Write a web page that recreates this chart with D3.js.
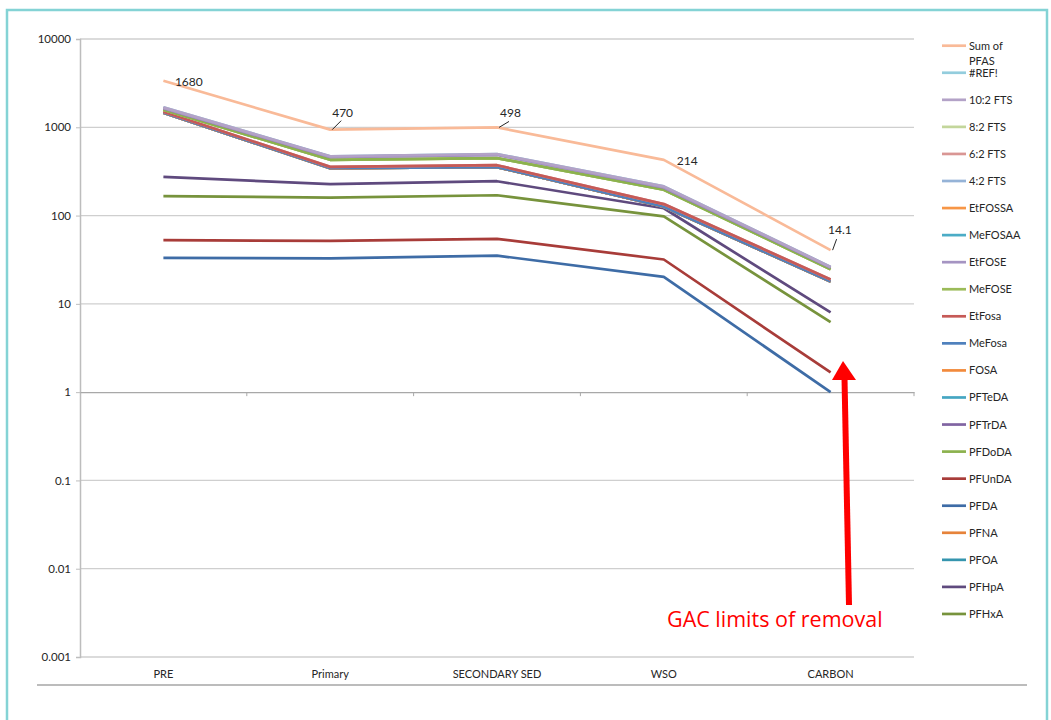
<!DOCTYPE html>
<html>
<head>
<meta charset="utf-8">
<script src="https://cdn.jsdelivr.net/npm/d3@7"></script>
<style>
  html, body { margin: 0; padding: 0; background: #fff; }
  svg { display: block; }
  text { font-family: Lato, "Open Sans", "Liberation Sans", sans-serif; }
</style>
</head>
<body>
<svg id="chart" width="1051" height="720"></svg>
<script>
// Treatment stages along the process train
const categories = ["PRE", "Primary", "SECONDARY SED", "WSO", "CARBON"];

// Log-axis tick values
const yTicks = [0.001, 0.01, 0.1, 1, 10, 100, 1000, 10000];
const yTickLabels = ["0.001", "0.01", "0.1", "1", "10", "100", "1000", "10000"];

// Concentrations per stage (one array per compound)
const sumPFAS  = [3360, 940, 996, 428, 40.6];
const refErr   = [1680, 470, 498, 214, 26.2];
const fts102   = [1680, 470, 498, 214, 26.2];
const fts82    = [1580, 428, 448, 196, 24.6];
const fts62    = [1500, 356, 372, 135, 18.9];
const fts42    = [1465, 344, 354, 126, 17.9];
const etFOSSA  = [1465, 344, 354, 126, 17.9];
const meFOSAA  = [1465, 344, 354, 126, 17.9];
const etFOSE   = [1640, 462, 488, 208, 25.8];
const meFOSE   = [1580, 428, 448, 196, 24.6];
const etFosa   = [1500, 356, 372, 135, 18.9];
const meFosa   = [1465, 344, 354, 126, 17.9];
const fosa     = [1465, 344, 354, 126, 17.9];
const pfTeDA   = [1465, 344, 354, 126, 17.9];
const pfTrDA   = [1640, 462, 488, 208, 25.8];
const pfDoDA   = [1580, 428, 448, 196, 24.6];
const pfUnDA   = [52.6, 51.7, 54.5, 31.8, 1.67];
const pfDA     = [33.2, 32.7, 35.2, 20.2, 1.0];
const pfNA     = [1465, 344, 354, 126, 17.9];
const pfOA     = [1465, 344, 354, 126, 17.9];
const pfHpA    = [274, 227, 245, 121, 8.0];
const pfHxA    = [166, 160, 170, 98, 6.2];

// Legend order, top to bottom
const seriesNames = ["Sum of PFAS", "#REF!", "10:2 FTS", "8:2 FTS", "6:2 FTS", "4:2 FTS",
  "EtFOSSA", "MeFOSAA", "EtFOSE", "MeFOSE", "EtFosa", "MeFosa", "FOSA", "PFTeDA",
  "PFTrDA", "PFDoDA", "PFUnDA", "PFDA", "PFNA", "PFOA", "PFHpA", "PFHxA"];
const seriesValues = [sumPFAS, refErr, fts102, fts82, fts62, fts42, etFOSSA, meFOSAA,
  etFOSE, meFOSE, etFosa, meFosa, fosa, pfTeDA, pfTrDA, pfDoDA, pfUnDA, pfDA, pfNA,
  pfOA, pfHpA, pfHxA];

// Line colours, same order as the legend
const seriesColors = ["#F9BA98", "#93CDDD", "#B3A2C7", "#C3D69B", "#D99694", "#95B3D7",
  "#F79646", "#4BACC6", "#A594C2", "#9BBB59", "#C65A57", "#4F81BD", "#F28A3C", "#45A6C2",
  "#8064A2", "#8CB24E", "#A83C39", "#3E6CA6", "#E6833A", "#3595AE", "#5F4A7E", "#77933C"];

// Stacking order of the lines (indices into the legend), first drawn at the back
const drawOrder = [0, 16, 17, 20, 21, 1, 13, 19, 7, 5, 6, 12, 18, 11, 4, 10, 3, 9, 15, 14, 8, 2];

// Data labels for the stage totals
const totalLabels = ["1680", "470", "498", "214", "14.1"];

const svg = d3.select("#chart");

// Outer frame
svg.append("rect")
  .attr("x", 7).attr("y", 10).attr("width", 1040).attr("height", 740)
  .attr("fill", "none").attr("stroke", "#84D3D5").attr("stroke-width", 2.5);

const plot = { left: 80, right: 914, top: 39, bottom: 657 };

const x = d3.scaleBand().domain(categories).range([plot.left, plot.right]).padding(0);
const cx = c => x(c) + x.bandwidth() / 2;
const y = d3.scaleLog().domain([0.001, 10000]).range([plot.bottom, plot.top]);

// Horizontal gridlines
svg.append("g").selectAll("line").data(yTicks.filter(v => v !== 1)).join("line")
  .attr("x1", plot.left).attr("x2", plot.right)
  .attr("y1", d => y(d)).attr("y2", d => y(d))
  .attr("stroke", "#CFCFCF").attr("stroke-width", 1.3);

// Value axis
const yAxis = d3.axisLeft(y).tickValues(yTicks)
  .tickFormat((d, i) => yTickLabels[i]).tickSize(4).tickPadding(5);
const gy = svg.append("g").attr("transform", `translate(${plot.left},0)`).call(yAxis);
gy.select(".domain").attr("stroke", "#BDBDBD").attr("stroke-width", 1.5);
gy.selectAll(".tick line").attr("stroke", "#BDBDBD");
gy.selectAll(".tick text").attr("fill", "#262626").style("font-size", "11.5px")
  .style("font-family", "Lato, sans-serif");

// Category axis crossing at 1, labels placed low
const xAxis = d3.axisBottom(x).tickSize(0).tickFormat("");
const gx = svg.append("g").attr("transform", `translate(0,${y(1)})`).call(xAxis);
gx.select(".domain").attr("stroke", "#A8A8A8").attr("stroke-width", 1.3);
gx.append("g").selectAll("line").data(categories).join("line")
  .attr("x1", (d, i) => plot.left + x.bandwidth() * (i + 1))
  .attr("x2", (d, i) => plot.left + x.bandwidth() * (i + 1))
  .attr("y1", 0).attr("y2", 4).attr("stroke", "#A8A8A8");

svg.append("g").selectAll("text").data(categories).join("text")
  .attr("x", d => cx(d)).attr("y", 678)
  .attr("text-anchor", "middle").attr("fill", "#262626")
  .style("font-size", "11px").text(d => d);

// Separator line under the chart
svg.append("line").attr("x1", 37).attr("x2", 1027).attr("y1", 685).attr("y2", 685)
  .attr("stroke", "#A6A6A6").attr("stroke-width", 1.3);

// Series lines
const line = d3.line().x((d, i) => cx(categories[i])).y(d => y(d));
svg.append("g").selectAll("path").data(drawOrder).join("path")
  .attr("d", i => line(seriesValues[i]))
  .attr("fill", "none")
  .attr("stroke", i => seriesColors[i])
  .attr("stroke-width", 2.7)
  .attr("stroke-linejoin", "round");

// Data labels: text offset [dx, baseline dy] and optional leader end [dx, dy]
const labelLayout = [
  { t: [11.5, 5.6], lead: null },
  { t: [2, -13], lead: [11, -9] },
  { t: [3, -10], lead: [12, -6] },
  { t: [13, 5.6], lead: null },
  { t: [-2.5, -16], lead: [6, -11] }
];
const lbl = svg.append("g");
totalLabels.forEach((t, i) => {
  const px = cx(categories[i]), py = y(sumPFAS[i]);
  const L = labelLayout[i];
  if (L.lead) {
    lbl.append("line")
      .attr("x1", px + 2).attr("y1", py)
      .attr("x2", px + L.lead[0]).attr("y2", py + L.lead[1])
      .attr("stroke", "#262626").attr("stroke-width", 1);
  }
  lbl.append("text").attr("x", px + L.t[0]).attr("y", py + L.t[1])
    .attr("fill", "#262626").style("font-size", "12px").text(t);
});

// Legend
const legend = svg.append("g");
const legY0 = 45.7, legStep = 27.06;
seriesNames.forEach((name, i) => {
  const ly = legY0 + i * legStep;
  legend.append("line").attr("x1", 942).attr("x2", 966).attr("y1", ly).attr("y2", ly)
    .attr("stroke", seriesColors[i]).attr("stroke-width", 2.7);
  const txt = legend.append("text").attr("x", 969).attr("y", ly + 4)
    .attr("fill", "#262626").style("font-size", "11px");
  if (name === "Sum of PFAS") {
    txt.append("tspan").attr("x", 969).attr("dy", 0).text("Sum of");
    txt.append("tspan").attr("x", 969).attr("dy", 15).text("PFAS");
  } else {
    txt.text(name);
  }
});

// Annotation arrow and note
const ann = svg.append("g");
ann.append("line").attr("x1", 849).attr("y1", 605).attr("x2", 844.5).attr("y2", 378)
  .attr("stroke", "#FF0000").attr("stroke-width", 6);
ann.append("path").attr("d", "M843,361 L856,380 L832,380 Z").attr("fill", "#FF0000");
ann.append("text").attr("x", 667).attr("y", 627)
  .attr("fill", "#FF0000").style("font-size", "21.5px")
  .style("font-family", "'Open Sans', sans-serif").text("GAC limits of removal");
</script>
</body>
</html>
